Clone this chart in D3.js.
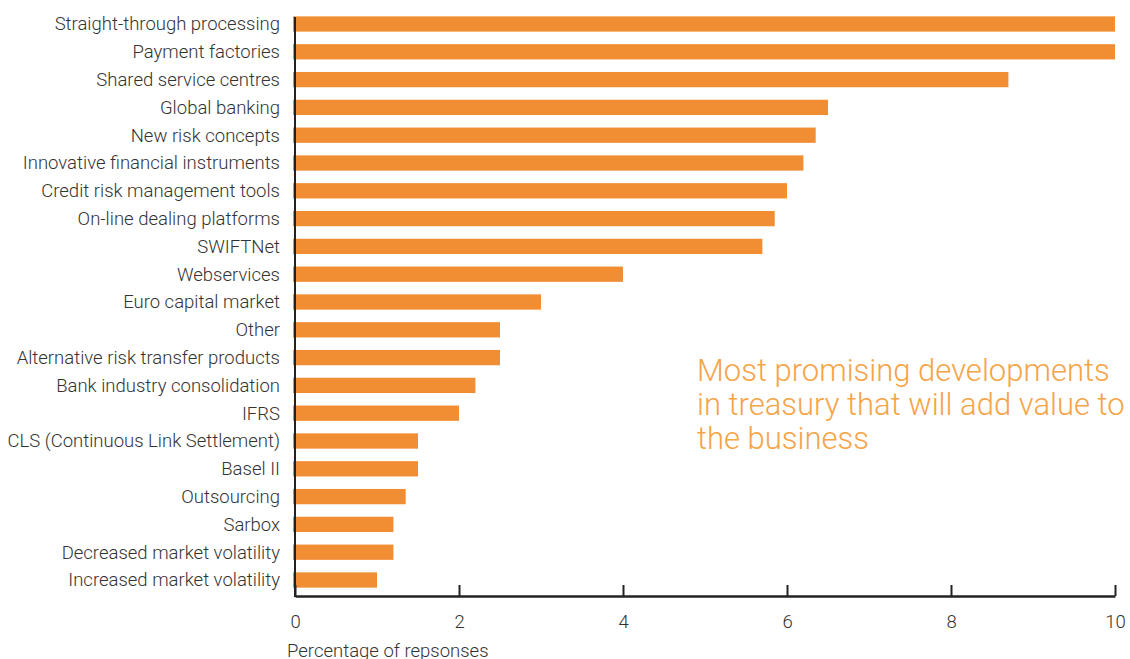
<!DOCTYPE html>
<html>
<head>
<meta charset="utf-8">
<script src="https://cdn.jsdelivr.net/npm/d3@7"></script>
<style>
  html, body { margin: 0; padding: 0; background: #fff; }
  svg { display: block; }
</style>
</head>
<body>
<svg id="chart" width="1130" height="659"></svg>
<script>
// Survey categories, top to bottom
const categories = [
  "Straight-through processing",
  "Payment factories",
  "Shared service centres",
  "Global banking",
  "New risk concepts",
  "Innovative financial instruments",
  "Credit risk management tools",
  "On-line dealing platforms",
  "SWIFTNet",
  "Webservices",
  "Euro capital market",
  "Other",
  "Alternative risk transfer products",
  "Bank industry consolidation",
  "IFRS",
  "CLS (Continuous Link Settlement)",
  "Basel II",
  "Outsourcing",
  "Sarbox",
  "Decreased market volatility",
  "Increased market volatility"
];

// Percentage of responses per category
const values = [10.0, 10.0, 8.7, 6.5, 6.35, 6.2, 6.0, 5.85, 5.7, 4.0, 3.0, 2.5, 2.5, 2.2, 2.0, 1.5, 1.5, 1.35, 1.2, 1.2, 1.0];

const xTicks = [0, 2, 4, 6, 8, 10];
const axisTitle = "Percentage of repsonses";
const titleLines = [
  "Most promising developments",
  "in treasury that will add value to",
  "the business"
];

const svg = d3.select("#chart");
const orange = "#F18D33";
const textColor = "#333";
const font = "Roboto, 'Liberation Sans', Arial, sans-serif";

const x = d3.scaleLinear().domain([0, 10]).range([295, 1115]);
const y = d3.scaleBand().domain(categories).range([10.1, 593.9]).paddingInner(0.45).paddingOuter(0.225);

// Bars
svg.append("g")
  .selectAll("rect")
  .data(categories)
  .join("rect")
  .attr("x", x(0) - 2)
  .attr("y", d => y(d))
  .attr("width", (d, i) => x(values[i]) - x(0) + 2)
  .attr("height", y.bandwidth())
  .attr("fill", orange);

// Category labels
svg.append("g")
  .selectAll("text")
  .data(categories)
  .join("text")
  .attr("x", 280)
  .attr("y", d => y(d) + y.bandwidth() / 2)
  .attr("dy", "0.35em")
  .attr("text-anchor", "end")
  .attr("font-family", font)
  .attr("font-weight", 300)
  .attr("font-size", 18.5)
  .attr("fill", textColor)
  .text(d => d);

// Vertical baseline
svg.append("line")
  .attr("x1", x(0)).attr("x2", x(0))
  .attr("y1", 17).attr("y2", 597)
  .attr("stroke", "#222").attr("stroke-width", 2);

// Bottom axis with inward ticks
const axisY = 596;
const xAxis = d3.axisBottom(x).tickValues(xTicks).tickSizeInner(-11).tickSizeOuter(0).tickPadding(0).tickFormat(d3.format("d"));
const gx = svg.append("g").attr("transform", `translate(0,${axisY})`).call(xAxis);
gx.select(".domain").attr("stroke", "#222").attr("stroke-width", 2.4);
gx.selectAll(".tick line").attr("stroke", "#222").attr("stroke-width", 2);
gx.selectAll(".tick text")
  .attr("y", 26)
  .attr("dy", "0.35em")
  .attr("font-family", font)
  .attr("font-weight", 300)
  .attr("font-size", 18.5)
  .attr("fill", textColor);

// Axis title
svg.append("text")
  .attr("x", 287)
  .attr("y", 657)
  .attr("font-family", font)
  .attr("font-weight", 300)
  .attr("font-size", 18.5)
  .attr("fill", textColor)
  .text(axisTitle);

// Chart title block
svg.append("g")
  .selectAll("text")
  .data(titleLines)
  .join("text")
  .attr("x", 697)
  .attr("y", (d, i) => 381 + i * 34)
  .attr("font-family", font)
  .attr("font-weight", 300)
  .attr("font-size", 31)
  .attr("fill", "#F5A447")
  .text(d => d);
</script>
</body>
</html>
